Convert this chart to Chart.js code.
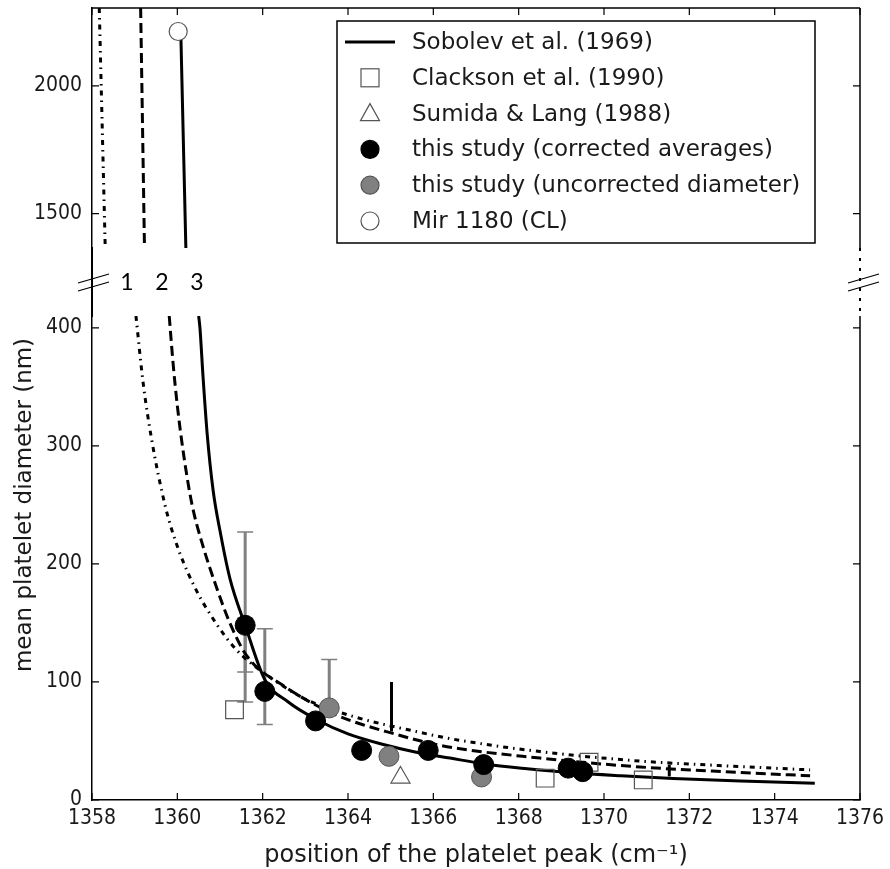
<!DOCTYPE html>
<html><head><meta charset="utf-8">
<script src="https://cdn.jsdelivr.net/npm/chart.js@4/dist/chart.umd.min.js"></script>
<style>html,body{margin:0;padding:0;background:#fff}#wrap{width:890px;height:869px}</style>
</head><body><div id="wrap"><canvas id="c" width="890" height="869"></canvas></div>
<script>
// ---------- data ----------
const X_TICKS = [1358, 1360, 1362, 1364, 1366, 1368, 1370, 1372, 1374, 1376];
const Y_BOTTOM_TICKS = [0, 100, 200, 300, 400];
const Y_TOP_TICKS = [1500, 2000];

// curve 3 : Sobolev et al. (1969) (solid)
const sobolevX = [1360.50, 1360.53, 1360.60, 1360.70, 1360.84, 1361.00, 1361.23, 1361.59, 1362.05, 1362.60, 1363.27, 1364.00, 1364.83, 1365.60, 1366.39, 1367.21, 1368.20, 1369.27, 1370.40, 1371.62, 1373.20, 1374.94];
const sobolevY = [410, 400, 360, 310, 262, 228, 188, 148, 102, 83, 68, 56, 47, 40.5, 35.5, 30.5, 26.5, 23, 20.5, 18.3, 16, 14.2];
const sobolevTopX = [1360.08, 1360.20];
const sobolevTopY = [2218, 1365];

// curve 2 (dashed)
const curve2X = [1359.81, 1359.90, 1360.00, 1360.15, 1360.34, 1360.61, 1360.92, 1361.23, 1361.63, 1362.48, 1363.73, 1365.14, 1366.20, 1368.50, 1370.84, 1372.80, 1374.83];
const curve2Y = [410, 370, 334, 292, 251, 214, 180, 150, 122, 97, 72, 55.5, 46, 35.5, 28, 24, 20.5];
const curve2TopX = [1359.14, 1359.23];
const curve2TopY = [2305, 1365];

// curve 1 (dash-dot)
const curve1X = [1359.03, 1359.20, 1359.40, 1359.71, 1359.95, 1360.37, 1360.92, 1361.39, 1361.94, 1363.03, 1364.20, 1365.60, 1366.39, 1368.50, 1370.84, 1372.80, 1374.83];
const curve1Y = [410, 353, 305, 250, 220, 183, 149, 127, 110, 85, 70, 58, 52, 41, 33, 29, 25.5];
const curve1TopX = [1358.17, 1358.31];
const curve1TopY = [2305, 1365];

const clacksonX = [1361.34, 1368.62, 1369.65, 1370.92];
const clacksonY = [76.5, 18.5, 32, 17];
const sumidaX = [1365.23];
const sumidaY = [19];
const correctedX = [1361.59, 1362.05, 1363.24, 1364.32, 1365.88, 1367.18, 1369.16, 1369.50];
const correctedY = [148, 92, 67, 42, 42, 30, 27, 24];
const uncorrectedX = [1363.56, 1364.96, 1367.13];
const uncorrectedY = [78, 37, 19.5];
const mirX = [1360.02];
const mirY = [2213];

// error bars (grey) of this study
const errX = [1361.59, 1361.59, 1362.05, 1363.56];
const errLo = [83, 108.5, 64, 78];
const errHi = [227, 154, 145, 119];
// black range marks
const markX = [1365.02, 1371.53];
const markLo = [58, 20];
const markHi = [100, 30];

// ---------- helpers ----------
const pts = (xs, ys) => xs.map((v, i) => ({x: v, y: ys[i]}));
const TXT = '#1a1a1a';
const FONT = "'DejaVu Sans', sans-serif";

function lineDS(label, xs, ys, axis, dash) {
  return {label, data: pts(xs, ys), yAxisID: axis, showLine: true, borderColor: '#000', borderWidth: 3,
    borderDash: dash, pointRadius: 0, fill: false, tension: 0.4, cubicInterpolationMode: 'monotone', order: 10};
}
function ptDS(label, xs, ys, axis, style, r, bg, bc, bw) {
  return {label, data: pts(xs, ys), yAxisID: axis, showLine: false, pointStyle: style, pointRadius: r,
    pointHoverRadius: r, backgroundColor: bg, borderColor: bc, pointBackgroundColor: bg, pointBorderColor: bc,
    pointBorderWidth: bw, order: 1};
}

const datasets = [
  ptDS('Mir 1180 (CL)', mirX, mirY, 'yTop', 'circle', 9, '#fff', '#555', 1.2),
  ptDS('this study (corrected averages)', correctedX, correctedY, 'yBot', 'circle', 10, '#000', '#000', 1),
  ptDS('this study (uncorrected diameter)', uncorrectedX, uncorrectedY, 'yBot', 'circle', 10, '#808080', '#555', 1),
  ptDS('Sumida & Lang (1988)', sumidaX, sumidaY, 'yBot', 'triangle', 11, 'rgba(0,0,0,0)', '#555', 1.2),
  ptDS('Clackson et al. (1990)', clacksonX, clacksonY, 'yBot', 'rect', 12.5, 'rgba(0,0,0,0)', '#555', 1.2),
  lineDS('Sobolev et al. (1969)', sobolevX, sobolevY, 'yBot', []),
  lineDS('Sobolev top', sobolevTopX, sobolevTopY, 'yTop', []),
  lineDS('curve 2', curve2X, curve2Y, 'yBot', [10, 5]),
  lineDS('curve 2 top', curve2TopX, curve2TopY, 'yTop', [10, 5]),
  lineDS('curve 1', curve1X, curve1Y, 'yBot', [5, 5, 1.5, 5]),
  lineDS('curve 1 top', curve1TopX, curve1TopY, 'yTop', [5, 5, 1.5, 5]),
];

const tickFont = {family: "'DejaVu Sans Condensed', 'DejaVu Sans', sans-serif", size: 21};
const fixTicks = arr => s => { s.ticks = arr.map(v => ({value: v})); };
const fitY = s => { s.width = 92; s.paddingTop = 0; s.paddingBottom = 0; s.paddingLeft = 0; s.paddingRight = 0; };
const fitX = s => { s.height = 69; s.paddingTop = 0; s.paddingBottom = 0; s.paddingLeft = 0; s.paddingRight = 0; };

// ---------- decorations plugin ----------
const deco = {
  id: 'deco',
  beforeDatasetsDraw(chart) {
    const {ctx, scales: {x, yBot}} = chart;
    ctx.save();
    ctx.strokeStyle = '#808080';
    errX.forEach((v, i) => {
      const px = x.getPixelForValue(v);
      const a = yBot.getPixelForValue(errLo[i]), b = yBot.getPixelForValue(errHi[i]);
      ctx.lineWidth = 3;
      ctx.beginPath(); ctx.moveTo(px, a); ctx.lineTo(px, b); ctx.stroke();
      ctx.lineWidth = 1.5;
      ctx.beginPath(); ctx.moveTo(px - 8, a); ctx.lineTo(px + 8, a); ctx.moveTo(px - 8, b); ctx.lineTo(px + 8, b); ctx.stroke();
    });
    ctx.strokeStyle = '#000';
    ctx.lineWidth = 3;
    markX.forEach((v, i) => {
      const px = x.getPixelForValue(v);
      ctx.beginPath(); ctx.moveTo(px, yBot.getPixelForValue(markLo[i])); ctx.lineTo(px, yBot.getPixelForValue(markHi[i])); ctx.stroke();
    });
    ctx.restore();
  },
  afterDraw(chart) {
    const {ctx, chartArea: ca, scales: {x, yBot, yTop, yGap}} = chart;
    ctx.save();
    ctx.strokeStyle = '#000';
    ctx.lineWidth = 1.5;
    // frame: top + right
    ctx.beginPath();
    ctx.moveTo(ca.left, yTop.top); ctx.lineTo(ca.right, yTop.top);
    ctx.moveTo(ca.right, yTop.top); ctx.lineTo(ca.right, yTop.bottom);
    ctx.moveTo(ca.right, yBot.top); ctx.lineTo(ca.right, yBot.bottom);
    ctx.stroke();
    ctx.setLineDash([3, 7]); ctx.lineWidth = 2;
    ctx.beginPath(); ctx.moveTo(ca.right, yGap.top); ctx.lineTo(ca.right, yGap.bottom); ctx.stroke();
    ctx.setLineDash([]);
    // inward ticks
    ctx.lineWidth = 1.2;
    ctx.beginPath();
    X_TICKS.forEach(v => {
      const px = x.getPixelForValue(v);
      ctx.moveTo(px, yBot.bottom); ctx.lineTo(px, yBot.bottom - 7);
      ctx.moveTo(px, yTop.top); ctx.lineTo(px, yTop.top + 7);
    });
    Y_BOTTOM_TICKS.forEach(v => {
      const py = yBot.getPixelForValue(v);
      ctx.moveTo(ca.left, py); ctx.lineTo(ca.left + 7, py);
      ctx.moveTo(ca.right, py); ctx.lineTo(ca.right - 7, py);
    });
    Y_TOP_TICKS.forEach(v => {
      const py = yTop.getPixelForValue(v);
      ctx.moveTo(ca.left, py); ctx.lineTo(ca.left + 7, py);
      ctx.moveTo(ca.right, py); ctx.lineTo(ca.right - 7, py);
    });
    ctx.stroke();
    // break marks
    const mid = (yGap.top + yGap.bottom) / 2 + 2;
    ctx.lineWidth = 1.3;
    [ca.left, ca.right + 2].forEach(cx => {
      ctx.beginPath();
      ctx.moveTo(cx - 14, mid - 1); ctx.lineTo(cx + 17, mid - 10);
      ctx.moveTo(cx - 14, mid + 7); ctx.lineTo(cx + 17, mid - 2);
      ctx.stroke();
    });
    // curve labels 1 2 3
    ctx.fillStyle = '#000';
    ctx.font = "23px Lato, 'Open Sans', sans-serif";
    ctx.textAlign = 'center'; ctx.textBaseline = 'middle';
    ctx.fillText('1', ca.left + 35, mid - 1);
    ctx.fillText('2', ca.left + 70, mid - 1);
    ctx.fillText('3', ca.left + 105, mid - 1);
    // y title
    ctx.save();
    ctx.translate(25, 505);
    ctx.rotate(-Math.PI / 2);
    ctx.fillStyle = TXT;
    ctx.font = "23px " + FONT;
    ctx.fillText('mean platelet diameter (nm)', 0, 0);
    ctx.restore();
    // legend
    const L = ca.right - 523, T = yTop.top + 13, W = 478, H = 222;
    ctx.fillStyle = '#fff';
    ctx.fillRect(L, T, W, H);
    ctx.strokeStyle = '#000'; ctx.lineWidth = 1.5;
    ctx.strokeRect(L, T, W, H);
    const items = [
      {t: 'Sobolev et al. (1969)', k: 'line'},
      {t: 'Clackson et al. (1990)', k: 'rect'},
      {t: 'Sumida & Lang (1988)', k: 'tri'},
      {t: 'this study (corrected averages)', k: 'black'},
      {t: 'this study (uncorrected diameter)', k: 'grey'},
      {t: 'Mir 1180 (CL)', k: 'open'},
    ];
    ctx.font = "23px " + FONT;
    ctx.textAlign = 'left'; ctx.textBaseline = 'middle';
    items.forEach((it, i) => {
      const cy = T + 21 + i * 35.8, sx = L + 33;
      ctx.lineWidth = 1.2; ctx.strokeStyle = '#555';
      if (it.k === 'line') {
        ctx.strokeStyle = '#000'; ctx.lineWidth = 3;
        ctx.beginPath(); ctx.moveTo(L + 8, cy); ctx.lineTo(L + 58, cy); ctx.stroke();
      } else if (it.k === 'rect') {
        ctx.strokeRect(sx - 9, cy - 9, 18, 18);
      } else if (it.k === 'tri') {
        ctx.beginPath(); ctx.moveTo(sx, cy - 10); ctx.lineTo(sx + 9.5, cy + 7); ctx.lineTo(sx - 9.5, cy + 7); ctx.closePath(); ctx.stroke();
      } else {
        ctx.beginPath(); ctx.arc(sx, cy, 9, 0, Math.PI * 2);
        ctx.fillStyle = it.k === 'black' ? '#000' : it.k === 'grey' ? '#808080' : '#fff';
        ctx.fill();
        ctx.strokeStyle = it.k === 'black' ? '#000' : '#555';
        ctx.stroke();
      }
      ctx.fillStyle = TXT;
      ctx.fillText(it.t, L + 75, cy + 1);
    });
    ctx.restore();
  }
};

new Chart(document.getElementById('c'), {
  type: 'scatter',
  data: {datasets},
  options: {
    responsive: false,
    devicePixelRatio: 1,
    animation: false,
    layout: {autoPadding: false, padding: {top: 8, right: 30, left: 0, bottom: 0}},
    plugins: {legend: {display: false}, tooltip: {enabled: false}},
    scales: {
      x: {
        type: 'linear', position: 'bottom', min: 1358, max: 1376,
        afterBuildTicks: fixTicks(X_TICKS),
        afterFit: fitX,
        ticks: {font: tickFont, color: TXT, padding: 6, maxRotation: 0, autoSkip: false, callback: v => String(v)},
        grid: {display: false, drawTicks: false},
        border: {display: true, color: '#000', width: 1.5},
        title: {display: true, text: 'position of the platelet peak (cm⁻¹)', color: TXT,
          font: {family: FONT, size: 24, lineHeight: 1.1}, padding: {top: 4, bottom: 0}}
      },
      yBot: {
        type: 'linear', position: 'left', stack: 'brk', stackWeight: 484, min: 0, max: 410,
        afterBuildTicks: fixTicks(Y_BOTTOM_TICKS),
        afterFit: fitY,
        ticks: {font: tickFont, color: TXT, padding: 10, callback: v => String(v)},
        grid: {display: false, drawTicks: false},
        border: {display: true, color: '#000', width: 1.5}
      },
      yGap: {
        type: 'linear', position: 'left', stack: 'brk', stackWeight: 68, min: 0, max: 1,
        afterFit: fitY,
        ticks: {display: false},
        grid: {display: false, drawTicks: false},
        border: {display: true, color: '#000', width: 2, dash: [3, 7]}
      },
      yTop: {
        type: 'linear', position: 'left', stack: 'brk', stackWeight: 240, min: 1365, max: 2305,
        afterBuildTicks: fixTicks(Y_TOP_TICKS),
        afterFit: fitY,
        ticks: {font: tickFont, color: TXT, padding: 10, callback: v => String(v)},
        grid: {display: false, drawTicks: false},
        border: {display: true, color: '#000', width: 1.5}
      }
    }
  },
  plugins: [deco]
});
</script>
</body></html>
